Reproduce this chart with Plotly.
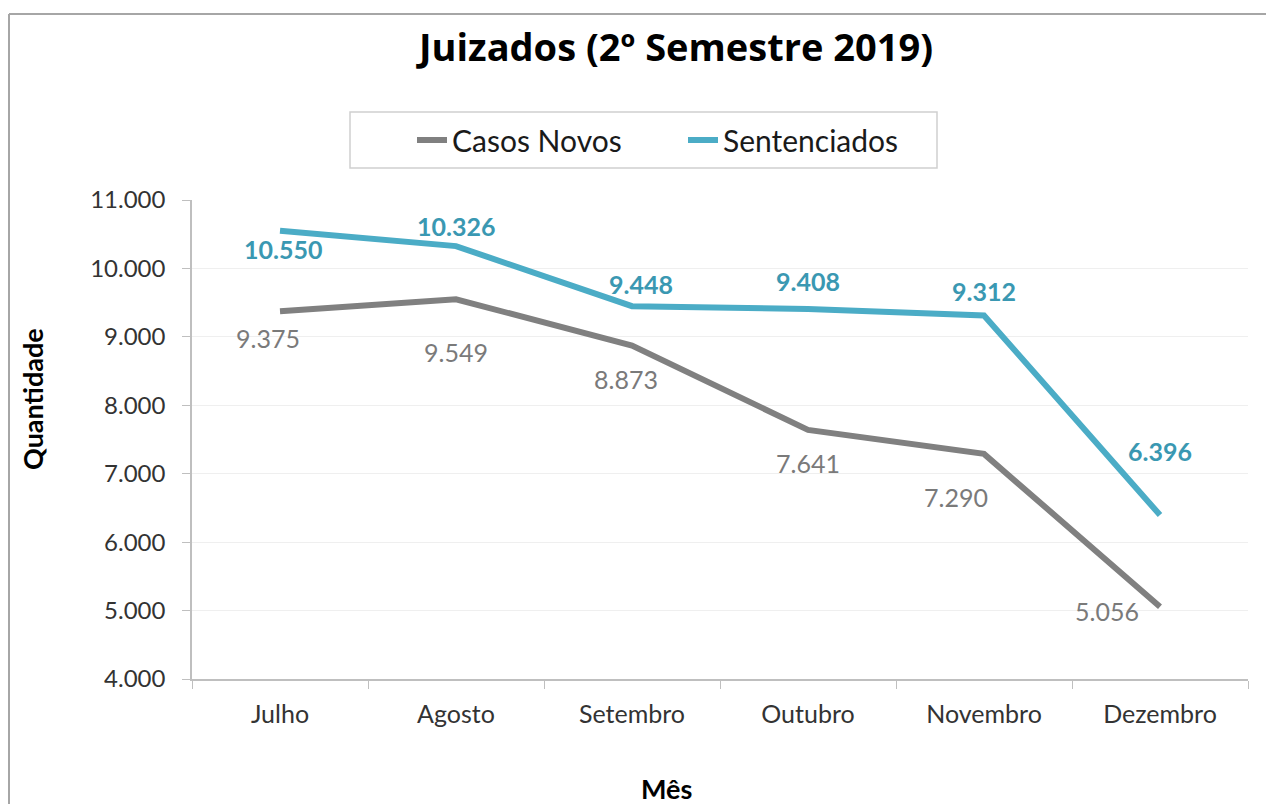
import plotly.graph_objects as go

meses = ["Julho", "Agosto", "Setembro", "Outubro", "Novembro", "Dezembro"]
casos_novos = [9375, 9549, 8873, 7641, 7290, 5056]
sentenciados = [10550, 10326, 9448, 9408, 9312, 6396]

# label offsets in pixels (dx, dy) relative to each point
off_casos = [(-12, -27), (0, -53), (-6, -33), (0, -33), (-28, -43), (-53, -4)]
off_sent = [(3, -18), (0, 20), (9, 22), (0, 28), (0, 25), (0, 64)]

FONT = "Lato"
GRAY = "#808080"
BLUE = "#4bacc6"

W, H = 1266, 804
# plot area in pixels
L, R, T, B = 192, 1248, 200, 679
PW, PH = R - L, B - T


def px(x):
    return (x - L) / PW


def py(y):
    return (B - y) / PH


def fmt(v):
    return f"{v:,}".replace(",", ".")


fig = go.Figure()
fig.add_trace(go.Scatter(x=meses, y=casos_novos, mode="lines", name="Casos Novos",
                         line=dict(color=GRAY, width=6)))
fig.add_trace(go.Scatter(x=meses, y=sentenciados, mode="lines", name="Sentenciados",
                         line=dict(color=BLUE, width=6)))

for m, v, (dx, dy) in zip(meses, casos_novos, off_casos):
    fig.add_annotation(x=m, y=v, text=fmt(v), showarrow=False, xshift=dx, yshift=dy,
                       font=dict(family=FONT, size=25, color="#7a7a7a"))
for m, v, (dx, dy) in zip(meses, sentenciados, off_sent):
    fig.add_annotation(x=m, y=v, text="<b>" + fmt(v) + "</b>", showarrow=False,
                       xshift=dx, yshift=dy,
                       font=dict(family=FONT, size=25, color="#3a98b2"))

# axis titles
fig.add_annotation(x=px(32), y=py(399), xref="paper", yref="paper", text="<b>Quantidade</b>",
                   showarrow=False, textangle=-90, xanchor="center", yanchor="middle",
                   font=dict(family=FONT, size=27, color="#000000"))
fig.add_annotation(x=px(666), y=py(788), xref="paper", yref="paper",
                   text="<b>Mês</b>", showarrow=False, xanchor="center", yanchor="middle",
                   font=dict(family=FONT, size=27, color="#000000"))

# outer chart border (top and left visible)
fig.add_shape(type="line", xref="paper", yref="paper",
              x0=px(9), x1=px(1266), y0=py(14), y1=py(14),
              line=dict(color="#a6a6a6", width=2))
fig.add_shape(type="line", xref="paper", yref="paper",
              x0=px(9), x1=px(9), y0=py(14), y1=py(804),
              line=dict(color="#a6a6a6", width=2))
# legend box
fig.add_shape(type="rect", xref="paper", yref="paper",
              x0=px(350), x1=px(937), y0=py(112), y1=py(168),
              line=dict(color="#d0d0d0", width=1.5))

fig.update_layout(
    width=W, height=H,
    margin=dict(l=L, r=W - R, t=T, b=H - B),
    paper_bgcolor="white", plot_bgcolor="white",
    separators=",.",
    title=dict(text="<b>Juizados (2º Semestre 2019)</b>", xref="container",
               x=676 / W, xanchor="center", y=1 - 48 / H, yanchor="middle",
               font=dict(family="Open Sans", size=38, color="#000000")),
    legend=dict(orientation="h", x=px(412), xanchor="left",
                y=py(140), yanchor="middle", entrywidth=226,
                borderwidth=0, bgcolor="rgba(0,0,0,0)",
                font=dict(family=FONT, size=30, color="#1a1a1a")),
    showlegend=True,
    xaxis=dict(range=[-0.5, 5.5], showline=True, linecolor="#bfbfbf", linewidth=1.5,
               ticks="outside", tickson="boundaries", ticklen=8, tickcolor="#bfbfbf",
               showgrid=False, ticklabelstandoff=12,
               tickfont=dict(family=FONT, size=25, color="#333333")),
    yaxis=dict(range=[4000, 11000], dtick=1000, tickformat=",d", showline=True,
               linecolor="#bfbfbf", linewidth=1.5, ticks="outside", ticklen=8,
               tickcolor="#bfbfbf", gridcolor="#efefef", zeroline=False,
               ticklabelstandoff=12,
               tickfont=dict(family=FONT, size=24, color="#333333")),
)

# drop the default page margin so the figure fills the window exactly
fig.write_html("out.html", config={"displayModeBar": False},
               post_script="document.body.style.margin='0';document.body.style.overflow='hidden';")
